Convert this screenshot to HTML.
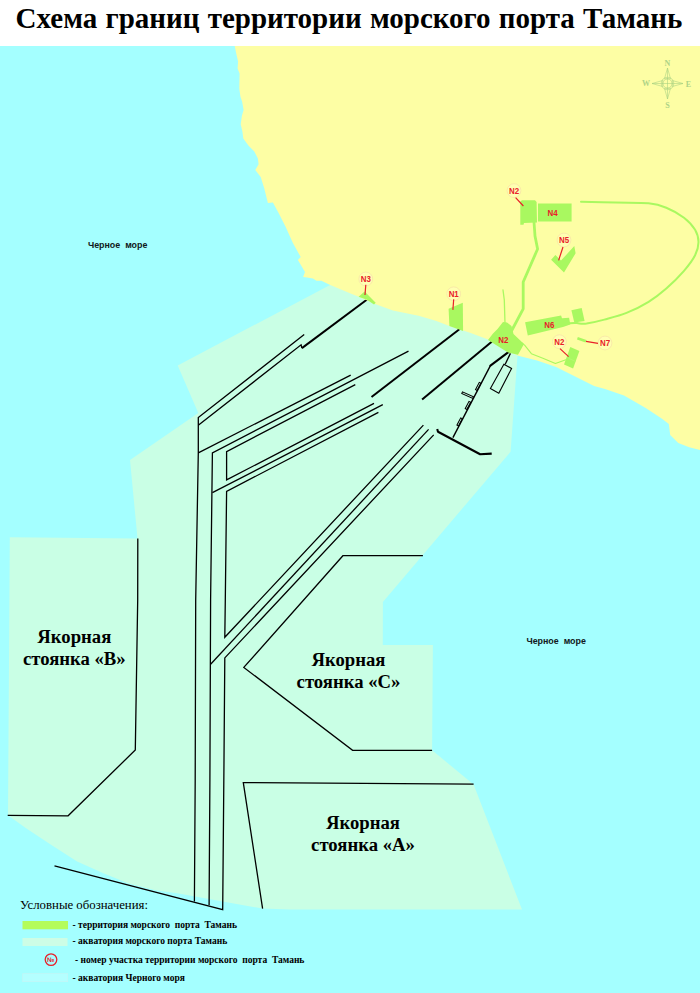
<!DOCTYPE html>
<html lang="ru">
<head>
<meta charset="utf-8">
<title>Схема границ территории морского порта Тамань</title>
<style>
html,body{margin:0;padding:0;background:#fff;}
body{width:700px;height:993px;overflow:hidden;position:relative;font-family:"Liberation Serif",serif;}
svg{position:absolute;left:0;top:0;display:block;}
.title{font-family:"Liberation Serif",serif;font-weight:bold;font-size:29px;word-spacing:1px;fill:#000;}
.anch{font-family:"Liberation Serif",serif;font-weight:bold;font-size:18.7px;fill:#000;text-anchor:middle;}
.sea{font-family:"Liberation Sans",sans-serif;font-weight:bold;font-size:8.9px;fill:#101820;}
.nl{font-family:"Liberation Sans",sans-serif;font-weight:bold;font-size:8.8px;fill:#e8202a;text-anchor:middle;}
.lgh{font-family:"Liberation Serif",serif;font-size:12.8px;fill:#000;}
.lg{font-family:"Liberation Serif",serif;font-weight:bold;font-size:9.5px;fill:#000;}
.thin{stroke:#000;stroke-width:1.3;fill:none;stroke-linejoin:miter;}
.thick{stroke:#000;stroke-width:2;fill:none;}
.grn{fill:#a9f860;}
.road{stroke:#a9f860;fill:none;stroke-linecap:round;stroke-linejoin:round;}
.lead{stroke:#e8202a;stroke-width:1.2;fill:none;}
.circ{fill:#ffffb2;stroke:#f5dca6;stroke-width:0.6;}
.cmp{stroke:#a6cf80;stroke-width:0.55;fill:none;}
.cmpt{font-family:"Liberation Serif",serif;font-weight:bold;font-size:8px;fill:#aed487;text-anchor:middle;}
</style>
</head>
<body>
<svg width="700" height="993" viewBox="0 0 700 993">
<!-- sea -->
<rect x="0" y="46" width="700" height="947" fill="#a4ffff"/>
<!-- aquatory -->
<polygon id="aqua" fill="#c9ffe5" points="340,279.8 177.7,365.4 198.3,413.1 130,460 137.5,538.4 9.8,537.3 8,815.3 25.7,828.1 51.4,844.9 77.1,861.6 102.9,873.1 128.6,883.4 154.3,889.9 180,893.7 222.7,901.4 262.6,908.6 290,909.5 522,909.6 473.6,784.4 432.1,750.3 432.9,645.1 382.8,645.1 382.9,602 510.6,451.7 517.5,355.5 520,330"/>

<!-- channel lines (thin) -->
<g class="thin" id="lines">
<polyline points="304.2,334.5 198.3,417.6 198.3,452.8 195.7,600 195.2,780 194.4,901.4"/>
<polyline points="198.3,425.3 301.1,344.8 301.9,348.1"/>
<polyline points="198.3,452.8 350.7,375.1"/>
<polyline points="408.5,351.2 212.4,452.8 210.6,600 209.9,780 209.1,905.3"/>
<polyline points="355.3,384.7 226.6,451.6 226.6,479.9 374,403.4"/>
<polyline points="212.4,492.7 382.8,404.7"/>
<polyline points="378.4,412.4 226.6,491.4 225.3,600 224.8,637.3 423.4,425.1"/>
<polyline points="210.6,664.3 428.6,429.4"/>
<polyline points="433.7,434.9 224.8,657.9 224,760 222.7,909.7 54.5,865.9"/>
<!-- anchorage C -->
<polyline points="422.9,555.7 342.9,555.7 243.8,667.4 352.6,750.3 432.1,750.3"/>
<!-- anchorage A -->
<polyline points="473.6,784.2 243.3,782.6 262.6,908.6"/>
<!-- anchorage B -->
<polyline points="137.8,538.6 137.7,600 135.3,750 68.1,815.8 7.7,815.3"/>
</g>
<!-- thick lines -->
<g class="thick" id="thick">
<line x1="301.9" y1="348.1" x2="367.4" y2="299.3"/>
<line x1="371.5" y1="397" x2="460.7" y2="328.3"/>
<line x1="422.1" y1="399.6" x2="492" y2="341.4"/>
<polyline points="508.4,352.1 490.4,365.6" stroke-linecap="round"/>
<polyline points="437.2,429 438,431.8 480.1,454.3 491.7,453.6" stroke-width="2.1" stroke-linejoin="round"/>
</g>
<g class="thin" id="pier">
<line x1="490.4" y1="365.6" x2="452.9" y2="437.6" stroke-width="1.4"/>
<polygon points="503.9,364.3 511.6,368.4 498.8,393.2 490.4,388.5" stroke-width="1.1"/>
<line x1="510.4" y1="353.4" x2="505.2" y2="364.3" stroke-width="1.3"/>
<g stroke-width="1">
<rect x="-4.1" y="-0.9" width="8.2" height="1.8" transform="translate(478.2,386.4) rotate(117.5)"/>
<rect x="-4.1" y="-0.9" width="8.2" height="1.8" transform="translate(467.9,405.4) rotate(117.5)"/>
<rect x="-4.1" y="-0.9" width="8.2" height="1.8" transform="translate(459.6,421.9) rotate(117.5)"/>
<rect x="-6" y="-0.9" width="12" height="1.8" transform="translate(467.6,395.2) rotate(24)"/>
</g>
</g>
<!-- land -->
<polygon id="land" fill="#fdfea4" points="234.7,46 236.4,54.3 238.1,61.4 237.6,68.6 239.6,73.6 239.3,88.6 240.4,96.4 242.1,101.4 243.6,110 241.9,115.7 240.7,124.3 242.4,131.4 243.3,138.6 248.6,145.7 254.3,151.4 257.9,158.6 258.6,164.3 255.3,170 260.7,177.1 264.3,188.6 267.9,202.9 272.9,202.6 278.6,212.9 285.7,227.1 292.9,242.9 300.7,257.1 297.9,260 305,272.1 303.1,277.1 307.1,277.4 312.9,278.6 316.4,280.7 321.4,280.7 328.6,284.3 338.6,288.6 350,293.3 358.6,296.7 375.7,304.3 392.9,310.6 418.6,315.8 435.7,320.7 449.4,325.9 470,332.7 489.4,340 518.1,355.7 537.1,360.4 556.1,367.1 575.1,376.6 594.1,386.1 605,388.9 624,395.6 645.7,407.9 662,418.7 668.8,424.1 670.2,435 678.3,443.1 689.2,447.2 700,449.9 700,46"/>

<!-- green territory -->
<g id="green">
<polygon class="grn" points="358.6,296.7 364.6,291.6 375.7,302.7 374,304.5 367,299.8"/>
<polygon class="grn" points="448.6,308.7 462.8,302.7 463.1,331 449.4,325.9"/>
<polygon class="grn" points="488,340 493,333.5 497.5,329 503,322 507,322.5 511.5,326 513.5,334 524,344 518,354.8 508,352.4 500,347.4 492,342.4"/>
<polygon class="grn" points="520.3,201.5 522,200.3 535,200.3 536.6,202 537,222.5 524,222.9 523.5,224.8 520.3,224.8"/>
<polygon class="grn" points="538,203.6 571.6,203.6 571.6,221.6 538,221.6"/>
<polygon class="grn" points="551.1,259.7 555.4,255 561,260.6 574.3,246 575.6,253.3 564,272.6"/>
<polygon class="grn" points="525.1,322.3 561.1,315.4 562,318.3 569.1,317.7 570.3,324.6 563,327 527.8,335.4"/>
<polygon class="grn" points="571.4,310.3 581.7,308 584.6,321.1 574.3,322.6"/>
<polygon class="grn" points="570.3,346.9 579.4,350.9 573.1,368.6 564,364.6"/><line x1="567.4" y1="357.7" x2="576" y2="361.7" stroke="#b8fa78" stroke-width="0.6"/>
<polyline class="road" stroke-width="2.8" points="534,222 535,236 537.6,249 523.2,282 523.2,308.8 511.2,331.5"/>
<polyline class="road" stroke-width="1.3" points="505,323 504.3,300 503,290"/>
<path class="road" stroke-width="2" d="M581.0,201.7C586.7,201.8 604.1,202.3 615.4,202.6C626.7,202.9 640.1,202.5 648.6,203.3C657.1,204.2 660.4,205.3 666.3,207.7C672.2,210.1 679.2,214.0 684.0,217.7C688.8,221.4 692.7,225.8 695.1,229.8C697.5,233.9 698.5,237.8 698.5,242.0C698.5,246.2 697.5,250.5 695.1,255.3C692.7,260.1 688.8,265.3 684.0,270.8C679.2,276.3 672.2,283.3 666.3,288.5C660.4,293.7 655.2,297.7 648.6,301.8C642.0,305.9 633.9,309.9 626.5,312.9C619.1,315.9 610.9,317.8 604.3,319.6C597.6,321.4 591.4,322.8 586.6,323.6C581.8,324.2 580,323.4 577,323.1C574,322.8 572,323 569.5,323.2"/>
<polyline class="road" stroke-width="1.1" points="522,343 524.6,345.1 531.4,353.7 542.9,358.3 555.4,363.4 568,358.9"/>
<line stroke="#a9f860" stroke-width="2.6" x1="577.4" y1="338.2" x2="586" y2="341.2"/>
</g>
<!-- labels -->
<g id="labels">
<circle class="circ" cx="365.8" cy="279" r="6.9"/>
<circle class="circ" cx="453.7" cy="293.8" r="6.9"/>
<circle class="circ" cx="514" cy="190.6" r="6.9"/>
<circle class="circ" cx="564" cy="240" r="6.9"/>
<circle class="circ" cx="559.4" cy="341.7" r="6.9"/>
<circle class="circ" cx="605" cy="343" r="6.9"/>
<path class="lead" d="M365.8,284.7L365,295 M453.7,299.3L452.9,309.9 M515.6,197.6L523.4,206 M563,247L558.6,260.4 M560,348.6L568.6,356.6 M586,341.4L598,343.4"/>
<text class="nl" transform="translate(365.8,282.2) scale(0.9,1)">N3</text>
<text class="nl" transform="translate(453.7,297.0) scale(0.9,1)">N1</text>
<text class="nl" transform="translate(514,193.8) scale(0.9,1)">N2</text>
<text class="nl" transform="translate(552.6,215.8) scale(0.9,1)">N4</text>
<text class="nl" transform="translate(564,243.2) scale(0.9,1)">N5</text>
<text class="nl" transform="translate(549.4,327.5) scale(0.9,1)">N6</text>
<text class="nl" transform="translate(503.4,342.6) scale(0.9,1)">N2</text>
<text class="nl" transform="translate(559.4,344.9) scale(0.9,1)">N2</text>
<text class="nl" transform="translate(605,346.2) scale(0.9,1)">N7</text>
</g>
<!-- compass -->
<g id="compass" transform="translate(667.5,83.5)">
<circle class="cmp" cx="0" cy="0" r="6.3"/>
<circle class="cmp" cx="0" cy="0" r="4.6"/>
<path class="cmp" d="M0,-15.5L3,-4.8H-3Z M0,15.5L3,4.8H-3Z M-15.5,0L-4.8,-3V3Z M15.5,0L4.8,-3V3Z M0,-15.5V15.5 M-15.5,0H15.5"/>
<text class="cmpt" x="0" y="-17.3">N</text>
<text class="cmpt" x="0" y="24.5">S</text>
<text class="cmpt" x="-21.5" y="2.6">W</text>
<text class="cmpt" x="21" y="3">E</text>
</g>
<!-- texts -->
<text class="title" id="title" x="15.6" y="28">Схема границ территории морского порта Тамань</text>
<text class="sea" id="sea1" x="87.9" y="247.9" xml:space="preserve">Черное  море</text>
<text class="sea" id="sea2" x="526.4" y="644.3" xml:space="preserve">Черное  море</text>
<text class="anch" x="74.3" y="642.9">Якорная</text>
<text class="anch" x="74.3" y="665.1">стоянка «В»</text>
<text class="anch" x="348.5" y="665.6">Якорная</text>
<text class="anch" x="348.5" y="688">стоянка «С»</text>
<text class="anch" x="363" y="828.8">Якорная</text>
<text class="anch" x="363" y="850.9">стоянка «А»</text>
<!-- legend -->
<g id="legend">
<text class="lgh" id="lgh" x="20" y="908.5">Условные обозначения:</text>
<rect x="22.5" y="921" width="45.5" height="8.3" fill="#b4fc5a"/>
<rect x="22.5" y="938" width="45" height="8" fill="#cdfde6"/>
<circle cx="51" cy="959.6" r="5.8" fill="none" stroke="#e8202a" stroke-width="1.3"/>
<text x="51" y="962.1" text-anchor="middle" font-family="Liberation Sans,sans-serif" font-weight="bold" font-size="6.6" fill="#e8202a">№</text>
<rect x="22.7" y="973.7" width="45" height="8" fill="#b4ffff" stroke="#c8f4f4" stroke-width="0.6"/>
<text class="lg" id="lg1" x="72.5" y="928" xml:space="preserve">- территория морского  порта  Тамань</text>
<text class="lg" id="lg2" x="72.5" y="944.3">- акватория морского порта Тамань</text>
<text class="lg" id="lg3" x="75" y="963" xml:space="preserve">- номер участка территории морского  порта  Тамань</text>
<text class="lg" id="lg4" x="72.5" y="980.5">- акватория Черного моря</text>
</g>
</svg>
</body>
</html>
